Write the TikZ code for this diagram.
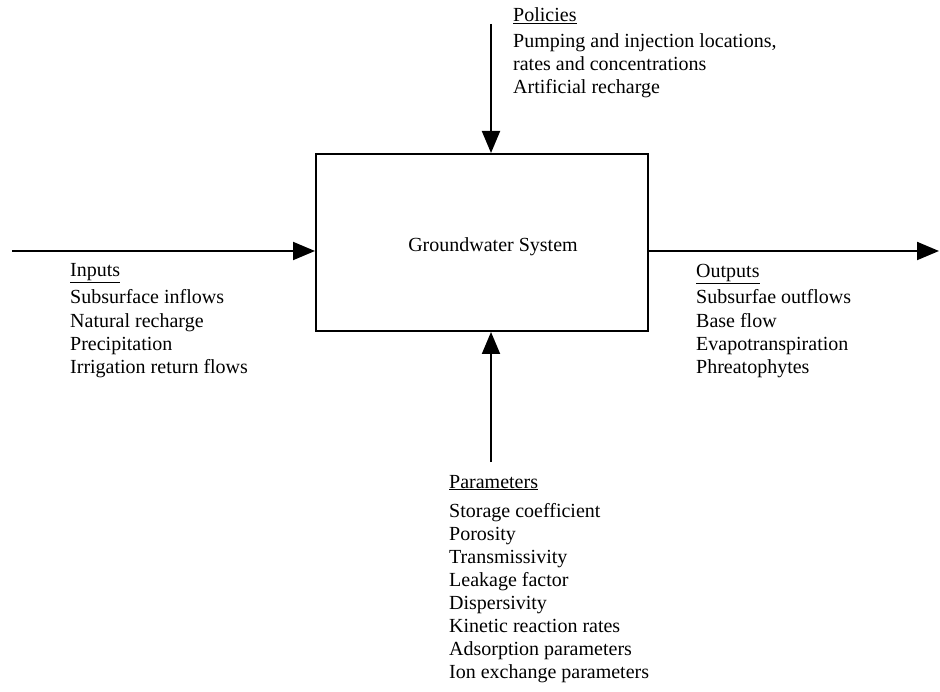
\documentclass[tikz,border=0pt]{standalone}
\usepackage{fontspec}
\setmainfont{Liberation Serif}
\usetikzlibrary{
    arrows.meta,
    calc,
    positioning
}

\begin{document}
\begin{tikzpicture}[x=1pt, y=-1pt,
    flow/.style={line width=2pt, -{Triangle[length=22pt, width=18pt]}},
    txt/.style={inner sep=0pt, anchor=base west, font=\fontsize{20}{23}\selectfont},
    head/.style={txt}]
    \useasboundingbox (0,0) rectangle (940,692);
    \node[draw, line width=2pt, minimum width=332pt, minimum height=177pt] (gw) at (482,242.5) {};
    \node[txt, anchor=base] (gwl) at (493,252) {Groundwater System};
    \coordinate (src) at (12,251);
    \coordinate (snk) at (939,251);
    \coordinate (pol) at (491,24);
    \coordinate (par) at (491,462);
    \draw
    (src) edge[flow] (src -| gw.west)
    (snk -| gw.east) edge[flow] (snk)
    (pol) edge[flow] (pol |- gw.north)
    (par) edge[flow] (par |- gw.south);
    \node[head] (inh) at (70,277) {\underline{Inputs}};
    \foreach \t [count=\i] in {Subsurface inflows, Natural recharge, Precipitation, Irrigation return flows}
        \node[txt] (in\i) at (70,280.7+23.3*\i) {\t};
    \node[head] (outh) at (696,278) {\underline{Outputs}};
    \foreach \t [count=\i] in {Subsurfae outflows, Base flow, Evapotranspiration, Phreatophytes}
        \node[txt] (out\i) at (696,280.7+23.3*\i) {\t};
    \node[head] (polh) at (513,22) {\underline{Policies}};
    \foreach \t [count=\i] in {{Pumping and injection locations,}, rates and concentrations, Artificial recharge}
        \node[txt] (pol\i) at (513,25+23*\i) {\t};
    \node[head] (parh) at (449,488) {\underline{Parameters}};
    \foreach \t [count=\i] in {Storage coefficient, Porosity, Transmissivity, Leakage factor, Dispersivity, Kinetic reaction rates, Adsorption parameters, Ion exchange parameters}
        \node[txt] (par\i) at (449,494+23*\i) {\t};
\end{tikzpicture}
\end{document}
